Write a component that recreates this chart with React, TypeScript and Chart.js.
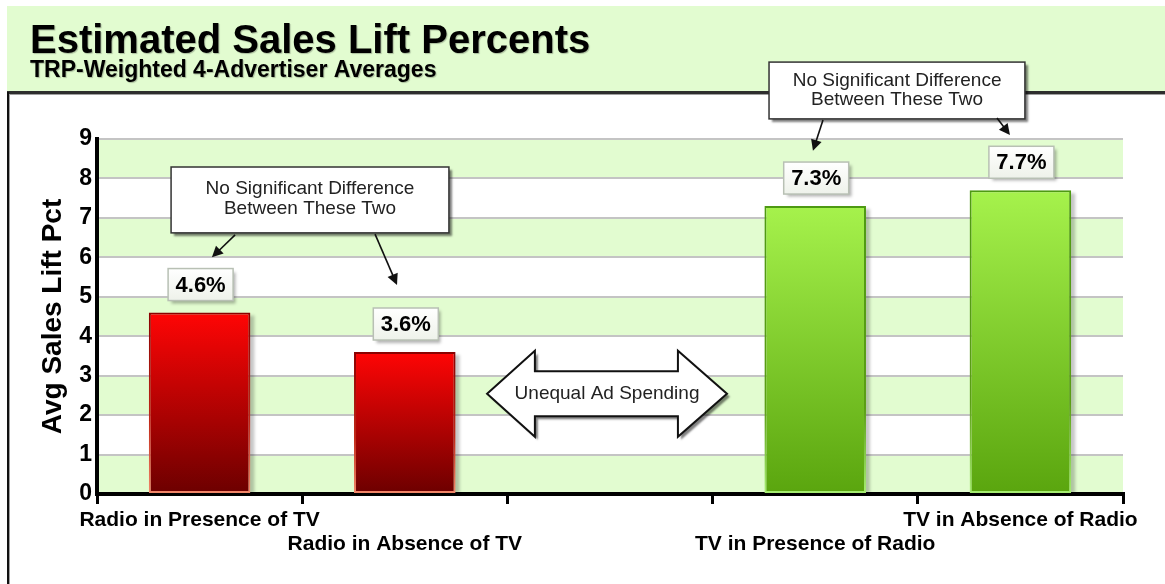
import React, { useEffect, useRef } from 'react';
import { Chart, registerables } from 'chart.js';

Chart.register(...registerables);

// ---------- data ----------
const categories: string[][] = [
  ['Radio in Presence of TV'],
  ['', 'Radio in Absence of TV'],
  [''],
  ['', 'TV in Presence of Radio'],
  ['TV in Absence of Radio'],
];
const liftValues: (number | null)[] = [4.6, 3.6, null, 7.3, 7.7];
const barGroups: string[] = ['radio', 'radio', '', 'tv', 'tv'];
const yMin = 0;
const yMax = 9;
const yStep = 1;

const titleText = 'Estimated Sales Lift Percents';
const subtitleText = 'TRP-Weighted 4-Advertiser Averages';
const yAxisTitle = 'Avg Sales Lift Pct';
const calloutLines = ['No Significant Difference', 'Between These Two'];
const arrowText = 'Unequal Ad Spending';

// annotation geometry in scale units (category index, value)
const callout1 = { x1: -0.139, x2: 1.215, y1: 8.29, y2: 6.62, tx: 0.538, ty: [7.73, 7.23] };
const callout1Arrows = [
  [0.173, 6.57, 0.06, 6.0],
  [0.855, 6.59, 0.962, 5.3],
];
const callout2 = { x1: 2.775, x2: 4.022, y1: 10.95, y2: 9.51, tx: 3.399, ty: [10.47, 9.99] };
const callout2Arrows = [
  [3.038, 9.48, 2.989, 8.7],
  [3.886, 9.53, 3.949, 9.1],
];
const dblArrow = { tipL: 1.401, baseL: 1.634, baseR: 2.331, tipR: 2.57, cy: 2.54, head: 1.09, shaft: 0.57 };

// ---------- style ----------
const FONT = '"Liberation Sans", Arial, Helvetica, sans-serif';
const BAND = '#e2fcd0';

function barFill(ctx: any, kind: 'bg' | 'border') {
  const chart = ctx.chart;
  const i = ctx.dataIndex;
  const grp = barGroups[i];
  const fallback = grp === 'radio' ? '#c00000' : '#7ccc28';
  if (!chart.chartArea || ctx.type !== 'data') return fallback;
  const v = liftValues[i];
  if (v == null) return fallback;
  const ys = chart.scales.y;
  const top = ys.getPixelForValue(v);
  const bot = ys.getPixelForValue(0);
  const g = chart.ctx.createLinearGradient(0, top, 0, bot);
  if (grp === 'radio') {
    if (kind === 'bg') {
      g.addColorStop(0, '#ff0505');
      g.addColorStop(1, '#6c0000');
    } else {
      g.addColorStop(0, '#8a0000');
      g.addColorStop(0.6, '#c02818');
      g.addColorStop(1, '#f2886a');
    }
  } else {
    if (kind === 'bg') {
      g.addColorStop(0, '#a6f24c');
      g.addColorStop(1, '#5aa50e');
    } else {
      g.addColorStop(0, '#4e9a12');
      g.addColorStop(0.7, '#5a9e14');
      g.addColorStop(1, '#a6ee72');
    }
  }
  return g;
}

function drawArrow(c: CanvasRenderingContext2D, x1: number, y1: number, x2: number, y2: number) {
  const ang = Math.atan2(y2 - y1, x2 - x1);
  const hl = 11;
  const hw = 5.5;
  c.save();
  c.strokeStyle = '#111';
  c.fillStyle = '#111';
  c.lineWidth = 1.6;
  c.beginPath();
  c.moveTo(x1, y1);
  c.lineTo(x2 - Math.cos(ang) * hl * 0.8, y2 - Math.sin(ang) * hl * 0.8);
  c.stroke();
  c.beginPath();
  c.moveTo(x2, y2);
  c.lineTo(x2 - Math.cos(ang) * hl - Math.sin(ang) * hw, y2 - Math.sin(ang) * hl + Math.cos(ang) * hw);
  c.lineTo(x2 - Math.cos(ang) * hl + Math.sin(ang) * hw, y2 - Math.sin(ang) * hl - Math.cos(ang) * hw);
  c.closePath();
  c.fill();
  c.restore();
}

function setShadow(c: CanvasRenderingContext2D, a = 0.45, ox = 3, oy = 3, blur = 3) {
  c.shadowColor = `rgba(0,0,0,${a})`;
  c.shadowOffsetX = ox;
  c.shadowOffsetY = oy;
  c.shadowBlur = blur;
}
function clearShadow(c: CanvasRenderingContext2D) {
  c.shadowColor = 'rgba(0,0,0,0)';
  c.shadowOffsetX = 0;
  c.shadowOffsetY = 0;
  c.shadowBlur = 0;
}

const framePlugin = {
  id: 'frame',
  beforeDraw(chart: any) {
    const { ctx: c, width, height } = chart;
    c.save();
    c.fillStyle = '#ffffff';
    c.fillRect(0, 0, width, height);
    // header band
    c.fillStyle = BAND;
    c.fillRect(7, 6, width - 7, 86);
    c.fillStyle = '#2e2e2e';
    c.fillRect(7, 91, width - 7, 3);
    c.fillStyle = '#a0a0a0';
    c.fillRect(9, 94, width - 9, 1);
    // panel left border
    c.fillStyle = '#111';
    c.fillRect(7, 92, 2, height - 92);
    c.fillStyle = '#a0a0a0';
    c.fillRect(9, 94, 1, height - 94);
    // titles
    c.textAlign = 'left';
    c.textBaseline = 'alphabetic';
    setShadow(c, 0.25, 1, 1, 1);
    c.fillStyle = '#000';
    c.font = `bold 40px ${FONT}`;
    c.fillText(titleText, 30, 53);
    c.font = `bold 23px ${FONT}`;
    c.fillText(subtitleText, 30, 77);
    clearShadow(c);
    // alternating bands
    const { left, right } = chart.chartArea;
    const ys = chart.scales.y;
    c.fillStyle = BAND;
    for (let v = yMin; v < yMax; v += 2 * yStep) {
      const t = ys.getPixelForValue(v + yStep);
      const b = ys.getPixelForValue(v);
      c.fillRect(left, t, right - left, b - t);
    }
    c.restore();
  },
  beforeDatasetsDraw(chart: any) {
    const c = chart.ctx;
    const meta = chart.getDatasetMeta(0);
    c.save();
    meta.data.forEach((el: any, i: number) => {
      if (liftValues[i] == null) return;
      const { x, y, base, width } = el.getProps(['x', 'y', 'base', 'width'], true);
      c.fillStyle = 'rgba(0,0,0,0.22)';
      c.filter = 'blur(1.5px)';
      c.fillRect(x - width / 2 + 4, y + 3, width, base - y - 3);
      c.filter = 'none';
    });
    c.restore();
  },
  afterDatasetsDraw(chart: any) {
    const c = chart.ctx;
    const meta = chart.getDatasetMeta(0);
    c.save();
    meta.data.forEach((el: any, i: number) => {
      const v = liftValues[i];
      if (v == null) return;
      const { x, y } = el.getProps(['x', 'y'], true);
      const w = 65;
      const h = 32;
      const bx = x - w / 2 + 1;
      const by = y - 12 - h;
      setShadow(c, 0.3, 3, 3, 3);
      const g = c.createLinearGradient(0, by, 0, by + h);
      g.addColorStop(0, '#ffffff');
      g.addColorStop(1, '#eef2ea');
      c.fillStyle = g;
      c.fillRect(bx, by, w, h);
      clearShadow(c);
      c.strokeStyle = '#b8c0b4';
      c.lineWidth = 1.5;
      c.strokeRect(bx, by, w, h);
      c.fillStyle = '#000';
      c.font = `bold 22px ${FONT}`;
      c.textAlign = 'center';
      c.textBaseline = 'middle';
      c.fillText(`${v.toFixed(1)}%`, bx + w / 2, by + h / 2 + 1);
    });
    c.restore();
  },
  afterDraw(chart: any) {
    const c: CanvasRenderingContext2D = chart.ctx;
    const xs = chart.scales.x;
    const ys = chart.scales.y;
    const px = (v: number) => xs.getPixelForValue(v);
    const py = (v: number) => ys.getPixelForValue(v);
    c.save();
    const drawCallout = (cb: any, arrows: number[][]) => {
      const x1 = px(cb.x1), x2 = px(cb.x2), y1 = py(cb.y1), y2 = py(cb.y2);
      setShadow(c, 0.5, 3, 3, 2);
      c.fillStyle = '#ffffff';
      c.fillRect(x1, y1, x2 - x1, y2 - y1);
      clearShadow(c);
      c.strokeStyle = '#333';
      c.lineWidth = 1.5;
      c.strokeRect(x1, y1, x2 - x1, y2 - y1);
      c.fillStyle = '#222';
      c.font = `19px ${FONT}`;
      c.textAlign = 'center';
      c.textBaseline = 'middle';
      calloutLines.forEach((t, k) => c.fillText(t, px(cb.tx), py(cb.ty[k])));
      arrows.forEach((a) => drawArrow(c, px(a[0]), py(a[1]), px(a[2]), py(a[3])));
    };
    drawCallout(callout1, callout1Arrows);
    drawCallout(callout2, callout2Arrows);

    // double-headed arrow
    const d = dblArrow;
    const cy = py(d.cy);
    const hh = py(d.cy - d.head) - cy;
    const sh = py(d.cy - d.shaft) - cy;
    const lt = px(d.tipL), lb = px(d.baseL), rb = px(d.baseR), rt = px(d.tipR);
    c.beginPath();
    c.moveTo(lt, cy);
    c.lineTo(lb, cy - hh);
    c.lineTo(lb, cy - sh);
    c.lineTo(rb, cy - sh);
    c.lineTo(rb, cy - hh);
    c.lineTo(rt, cy);
    c.lineTo(rb, cy + hh);
    c.lineTo(rb, cy + sh);
    c.lineTo(lb, cy + sh);
    c.lineTo(lb, cy + hh);
    c.closePath();
    setShadow(c, 0.5, 3, 3, 2);
    c.fillStyle = '#ffffff';
    c.fill();
    clearShadow(c);
    c.strokeStyle = '#111';
    c.lineWidth = 2;
    c.lineJoin = 'miter';
    c.stroke();
    c.fillStyle = '#222';
    c.font = `19px ${FONT}`;
    c.textAlign = 'center';
    c.textBaseline = 'middle';
    c.fillText(arrowText, (lt + rt) / 2, cy);
    c.restore();
  },
};

export default function App() {
  const ref = useRef<HTMLCanvasElement>(null);
  useEffect(() => {
    if (!ref.current) return;
    const chart = new Chart(ref.current, {
      type: 'bar',
      data: {
        labels: categories as any,
        datasets: [
          {
            data: liftValues as any,
            backgroundColor: (ctx: any) => barFill(ctx, 'bg'),
            borderColor: (ctx: any) => barFill(ctx, 'border'),
            borderWidth: 2,
            borderSkipped: false,
            categoryPercentage: 1,
            barPercentage: 0.495,
          },
        ],
      },
      options: {
        responsive: false,
        devicePixelRatio: 1,
        animation: false,
        events: [],
        layout: { padding: { top: 139, right: 42, bottom: 0, left: 0 } },
        plugins: {
          legend: { display: false },
          tooltip: { enabled: false },
          title: { display: false },
        },
        scales: {
          x: {
            type: 'category',
            grid: {
              display: true,
              drawOnChartArea: false,
              drawTicks: true,
              tickLength: 10,
              color: '#000',
              lineWidth: 3,
              offset: true,
            },
            border: { display: true, color: '#000', width: 4 },
            ticks: {
              color: '#000',
              font: { family: FONT, size: 21, weight: 'bold', lineHeight: 1.15 },
              padding: 4,
              autoSkip: false,
              maxRotation: 0,
              minRotation: 0,
            },
            afterFit: (s: any) => {
              s.height = 90;
            },
          },
          y: {
            min: yMin,
            max: yMax,
            ticks: {
              stepSize: yStep,
              color: '#000',
              font: { family: FONT, size: 23, weight: 'bold' },
              padding: 5,
            },
            grid: { color: '#c4c4c4', lineWidth: 2, drawTicks: false },
            border: { display: true, color: '#000', width: 4 },
            title: {
              display: true,
              text: yAxisTitle,
              color: '#000',
              font: { family: FONT, size: 28, weight: 'bold' },
              padding: { top: 36, bottom: 0 },
            },
            afterFit: (s: any) => {
              s.width = 97;
            },
          },
        },
      } as any,
      plugins: [framePlugin as any],
    });
    return () => chart.destroy();
  }, []);
  return (
    <div style={{ position: 'absolute', left: 0, top: 0, width: 1165, height: 584 }}>
      <canvas ref={ref} width={1165} height={584} style={{ display: 'block', width: 1165, height: 584 }} />
    </div>
  );
}
